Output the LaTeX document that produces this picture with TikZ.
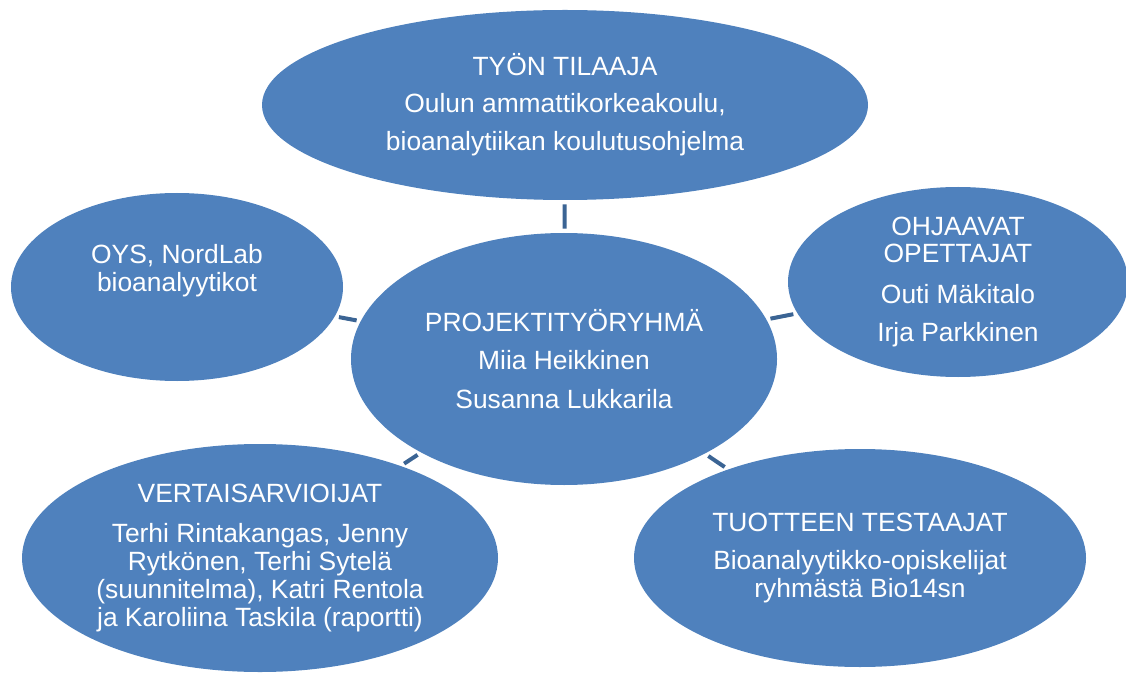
\documentclass[tikz,border=0pt]{standalone}
\usepackage{fontspec}
\setmainfont{Liberation Sans}
\usetikzlibrary{shapes.geometric}
\definecolor{partyblue}{HTML}{4F81BD}
\definecolor{linkblue}{HTML}{3B6494}
\tikzset{
  party/.style={ellipse, fill=partyblue, text=white, inner sep=0pt, align=center,
    font=\fontsize{19.8}{20.6}\selectfont},
  link/.style={draw=linkblue, line width=3pt, shorten <=3pt, shorten >=3pt}
}

\begin{document}
\begin{tikzpicture}[x=0.75pt,y=-0.75pt]
    \useasboundingbox (0,0) rectangle (1126,673);
    %(1) keskellä
    \node[party, minimum width=319.5pt, minimum height=189pt] (proj) at (564,359)
      {PROJEKTITYÖRYHMÄ\\[8pt]Miia Heikkinen\\[8pt]Susanna Lukkarila};
    %(2) ylhäällä
    \node[party, minimum width=454.5pt, minimum height=142.5pt] (tilaaja) at (565,105)
      {TYÖN TILAAJA\\[7pt]Oulun ammattikorkeakoulu,\\[8pt]bioanalytiikan koulutusohjelma};
    %(3) vasemmalla
    \node[party, minimum width=249pt, minimum height=141pt] (oys) at (177,287)
      {OYS, NordLab\\bioanalyytikot\\[8pt]\mbox{}};
    %(4) oikealla
    \node[party, minimum width=255pt, minimum height=142.5pt] (ohjaajat) at (958,282)
      {OHJAAVAT\\OPETTAJAT\\[10pt]Outi Mäkitalo\\[8pt]Irja Parkkinen};
    %(5) alhaalla vasemmalla
    \node[party, minimum width=357pt, minimum height=171pt] (vertaiset) at (260,558)
      {VERTAISARVIOIJAT\\[9.5pt]Terhi Rintakangas, Jenny\\[0.6pt]Rytkönen, Terhi Sytelä\\[0.6pt](suunnitelma), Katri Rentola\\[0.6pt]ja Karoliina Taskila (raportti)};
    %(6) alhaalla oikealla
    \node[party, minimum width=339pt, minimum height=163.5pt] (testaajat) at (860,558)
      {TUOTTEEN TESTAAJAT\\[8pt]Bioanalyytikko-opiskelijat\\ryhmästä Bio14sn};
    %yhteydet
    \draw[link] (proj) -- (tilaaja);
    \draw[link] (proj) -- (oys);
    \draw[link] (proj) -- (ohjaajat);
    \draw[link] (proj) -- (vertaiset);
    \draw[link] (proj) -- (testaajat);
\end{tikzpicture}
\end{document}
